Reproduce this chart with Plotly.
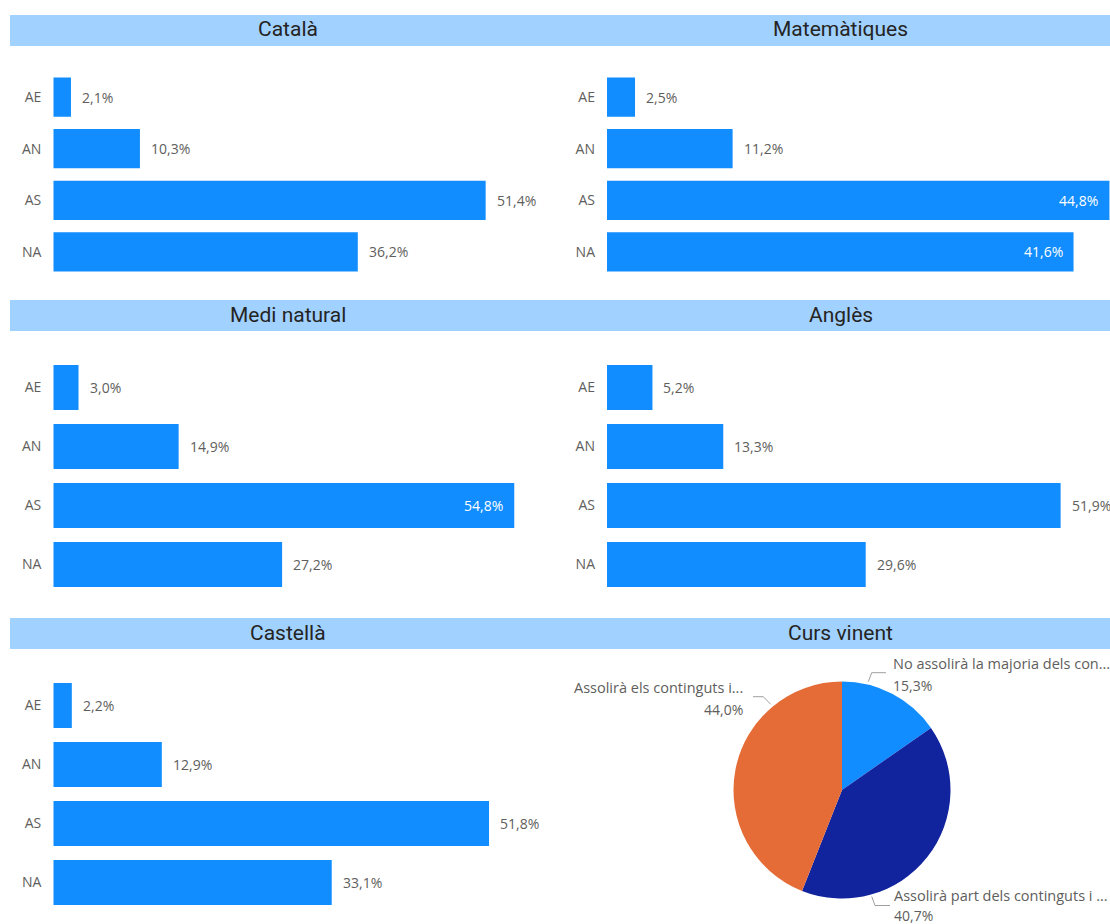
import plotly.graph_objects as go

# ---- data -------------------------------------------------------------
levels = ["AE", "AN", "AS", "NA"]

catala = [2.1, 10.3, 51.4, 36.2]
matematiques = [2.5, 11.2, 44.8, 41.6]
medi_natural = [3.0, 14.9, 54.8, 27.2]
angles = [5.2, 13.3, 51.9, 29.6]
castella = [2.2, 12.9, 51.8, 33.1]

curs_labels = [
    "No assolirà la majoria dels con...",
    "Assolirà part dels continguts i ...",
    "Assolirà els continguts i...",
]
curs_values = [15.3, 40.7, 44.0]

# ---- page geometry / styles -------------------------------------------
W, H = 1110, 924
BAR = "#118DFF"
PIE_COLORS = ["#118DFF", "#12239E", "#E66C37"]
HEADER_BG = "#A0D1FF"
TITLE_COLOR = "#252423"
LABEL_COLOR = "#605E5C"
LEADER_COLOR = "#A19F9D"
TITLE_FONT = "Roboto"
BODY_FONT = "Open Sans"
LABEL_ROOM = 52  # pixels an outside value label needs after the bar end


def fx(px):
    return px / W


def fy(py):
    return 1 - py / H


def fmt(v):
    return f"{v:.1f}".replace(".", ",") + "%"


# header strips: (title, x0, x1, y0, y1) in pixels
headers = [
    ("Català", 10, 565, 15, 46),
    ("Matemàtiques", 565, 1116, 15, 46),
    ("Medi natural", 10, 565, 300, 331),
    ("Anglès", 565, 1116, 300, 331),
    ("Castellà", 10, 565, 618, 649),
    ("Curs vinent", 565, 1116, 618, 649),
]

# bar panels: values, plot box in pixels, x max, visual right edge
panels = [
    dict(values=catala, x0=53.3, x1=558, xmax=60, y0=71.3, y1=277.8, edge=565),
    dict(values=matematiques, x0=607, x1=1110, xmax=44.85, y0=71.3, y1=277.8, edge=1116),
    dict(values=medi_natural, x0=53.3, x1=558, xmax=60, y0=358, y1=594, edge=565),
    dict(values=angles, x0=607, x1=1110, xmax=57.55, y0=358, y1=594, edge=1116),
    dict(values=castella, x0=53.3, x1=558, xmax=60, y0=676, y1=912, edge=565),
]

fig = go.Figure()
shapes = []
annotations = []

for title, x0, x1, y0, y1 in headers:
    shapes.append(dict(type="rect", xref="paper", yref="paper",
                       x0=fx(x0), x1=fx(x1), y0=fy(y1), y1=fy(y0),
                       fillcolor=HEADER_BG, line=dict(width=0), layer="below"))
    annotations.append(dict(text=title, xref="paper", yref="paper",
                            x=fx((x0 + x1) / 2), y=fy((y0 + y1) / 2 - 1),
                            xanchor="center", yanchor="middle", showarrow=False,
                            font=dict(family=TITLE_FONT, size=21, color=TITLE_COLOR)))

for i, p in enumerate(panels, start=1):
    sfx = "" if i == 1 else str(i)
    xa, ya = "x" + sfx, "y" + sfx
    fig.add_trace(go.Bar(
        x=p["values"], y=levels, orientation="h",
        marker=dict(color=BAR, line=dict(width=0)),
        xaxis=xa, yaxis=ya, hoverinfo="skip", showlegend=False,
    ))
    fig.layout["xaxis" + sfx] = dict(
        domain=[fx(p["x0"]), fx(p["x1"])], range=[0, p["xmax"]],
        visible=False, anchor=ya, fixedrange=True,
    )
    fig.layout["yaxis" + sfx] = dict(
        domain=[fy(p["y1"]), fy(p["y0"])], anchor=xa, type="category",
        categoryorder="array", categoryarray=levels, range=[3.5, -0.5],
        showgrid=False, zeroline=False, showline=False, ticks="",
        ticklabelstandoff=11, fixedrange=True,
        tickfont=dict(family=BODY_FONT, size=14, color=LABEL_COLOR),
    )
    px_per_unit = (p["x1"] - p["x0"]) / p["xmax"]
    for lvl, v in zip(levels, p["values"]):
        end_px = p["x0"] + v * px_per_unit
        inside = end_px + LABEL_ROOM > p["edge"]
        annotations.append(dict(
            text=fmt(v), xref=xa, yref=ya, x=v, y=lvl, showarrow=False,
            xanchor="right" if inside else "left", yanchor="middle",
            xshift=-9 if inside else 9,
            font=dict(family=BODY_FONT, size=14,
                      color="white" if inside else LABEL_COLOR),
        ))

# pie: next-course outlook
fig.add_trace(go.Pie(
    labels=curs_labels, values=curs_values,
    domain=dict(x=[fx(733.5), fx(950.5)], y=[fy(898.5), fy(681.5)]),
    direction="clockwise", rotation=0, sort=False,
    marker=dict(colors=PIE_COLORS, line=dict(width=0)),
    textinfo="none", hoverinfo="skip", showlegend=False,
))

# pie labels: (label index, anchor, x px, first line y px, second line y px)
pie_label_pos = [
    (0, "left", 892, 663, 685),
    (1, "left", 893, 895, 915),
    (2, "right", 744, 687, 709),
]
for idx, anchor, x, ya_, yb_ in pie_label_pos:
    for txt, yy, size in ((curs_labels[idx], ya_, 14.5), (fmt(curs_values[idx]), yb_, 14)):
        annotations.append(dict(
            text=txt, xref="paper", yref="paper", x=fx(x), y=fy(yy),
            xanchor=anchor, yanchor="middle", showarrow=False,
            borderpad=0, font=dict(family=BODY_FONT, size=size, color=LABEL_COLOR),
        ))

# leader lines from the slices to their labels
leaders = [
    [(868.3, 681.7), (871.7, 672.7), (886, 672.7)],
    [(871.7, 896.5), (875, 905.5), (890, 905.5)],
    [(770.7, 704.3), (763.3, 696.7), (753, 696.7)],
]
for pts in leaders:
    path = "M " + " L ".join(f"{fx(a):.5f},{fy(b):.5f}" for a, b in pts)
    shapes.append(dict(type="path", xref="paper", yref="paper", path=path,
                       line=dict(color=LEADER_COLOR, width=1)))

fig.update_layout(
    width=W, height=H, autosize=False,
    margin=dict(l=0, r=0, t=0, b=0),
    paper_bgcolor="white", plot_bgcolor="white",
    bargap=0.24, showlegend=False,
    font=dict(family=BODY_FONT),
    shapes=shapes, annotations=annotations,
)

fig.write_html("out.html", config={"displayModeBar": False})
